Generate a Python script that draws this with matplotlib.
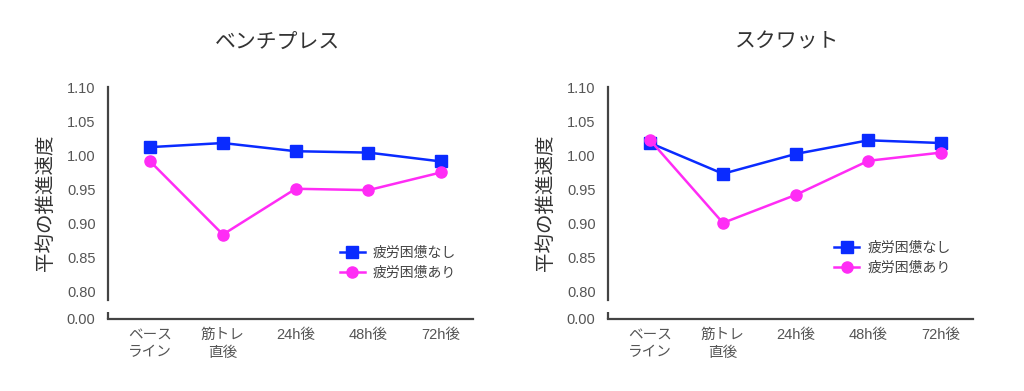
import matplotlib
matplotlib.use("Agg")
import matplotlib.pyplot as plt

plt.rcParams['font.family'] = ['Liberation Sans', 'Noto Sans CJK JP', 'DejaVu Sans']

# Datos
categorias = ['ベース\nライン', '筋トレ\n直後', '24h後', '48h後', '72h後']
titulos = ['ベンチプレス', 'スクワット']
series_nombres = ['疲労困憊なし', '疲労困憊あり']

banca_sin = [1.012, 1.018, 1.006, 1.004, 0.991]
banca_con = [0.991, 0.884, 0.951, 0.949, 0.975]
sentadilla_sin = [1.018, 0.973, 1.002, 1.022, 1.018]
sentadilla_con = [1.022, 0.901, 0.942, 0.992, 1.004]

yticks = [0.80, 0.85, 0.90, 0.95, 1.00, 1.05, 1.10]
y_base = 0.761  # posición del "0.00" tras el corte del eje

AZUL = '#0a2bff'
MAGENTA = '#ff2cf5'
GRIS = '#444444'

fig = plt.figure(figsize=(10.24, 3.91), dpi=100)
ax1 = fig.add_axes([0.1055, 0.1854, 0.3565, 0.592])
ax2 = fig.add_axes([0.5938, 0.1854, 0.3565, 0.592])

datos = [(banca_sin, banca_con), (sentadilla_sin, sentadilla_con)]
pos_titulo = [0.463, 0.49]
pos_leyenda = [(0.60, 0.37), (0.585, 0.39)]

for ax, (sin, con), titulo, xt, leg in zip([ax1, ax2], datos, titulos, pos_titulo, pos_leyenda):
    x = list(range(len(categorias)))
    ax.plot(x, sin, color=AZUL, lw=1.8, marker='s', ms=8.5, label=series_nombres[0])
    ax.plot(x, con, color=MAGENTA, lw=1.8, marker='o', ms=8, label=series_nombres[1])

    ax.set_xlim(-0.58, 4.44)
    ax.set_ylim(y_base, 1.10)
    ax.set_yticks([y_base] + yticks)
    ax.set_yticklabels(['0.00'] + [f'{v:.2f}' for v in yticks])
    ax.set_xticks(x)
    ax.set_xticklabels(categorias, linespacing=1.3)

    ax.tick_params(axis='both', length=0, labelsize=10.5, colors='#555555')
    ax.tick_params(axis='y', pad=9)
    ax.tick_params(axis='x', pad=7)

    for s in ['top', 'right']:
        ax.spines[s].set_visible(False)
    ax.spines['left'].set_bounds(0.788, 1.10)
    ax.spines['left'].set_color(GRIS)
    ax.spines['left'].set_linewidth(1.6)
    ax.spines['bottom'].set_color(GRIS)
    ax.spines['bottom'].set_linewidth(1.6)
    # pequeño tramo del eje debajo del corte
    ax.plot([0, 0], [y_base, 0.771], color=GRIS, lw=1.6,
            transform=ax.get_yaxis_transform(), clip_on=False, solid_capstyle='butt')

    ax.set_ylabel('平均の推進速度', fontsize=14, color='#333333')
    ax.yaxis.set_label_coords(-0.145, 0.5)

    ax.text(xt, 1.195, titulo, transform=ax.transAxes, ha='center', va='center',
            fontsize=15, color='#333333')

    ax.legend(loc='upper left', bbox_to_anchor=leg, frameon=False, fontsize=10,
              handlelength=1.8, handletextpad=0.6, labelspacing=0.45,
              labelcolor='#444444')

fig.savefig('out.png', dpi=100)
